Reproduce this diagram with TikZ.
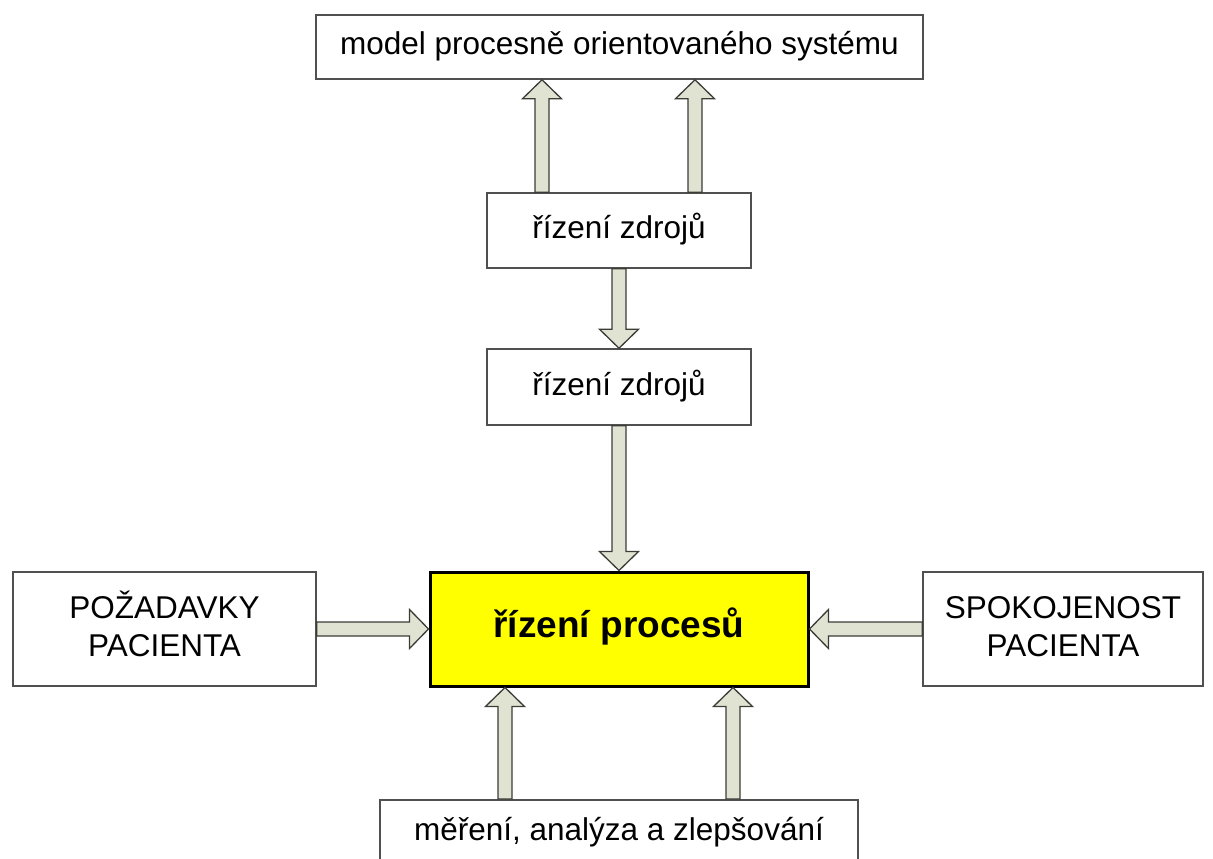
\documentclass[tikz,border=0pt]{standalone}
\usepackage{fontspec}
\setmainfont{Liberation Sans}
\usetikzlibrary{calc}
\definecolor{boxgray}{RGB}{80,80,80}
\definecolor{arrowline}{RGB}{60,60,55}
\definecolor{arrowfill}{RGB}{224,226,210}
\definecolor{procyellow}{RGB}{255,255,0}
\tikzset{
  box/.style={draw=boxgray, line width=1.5pt, fill=white, inner sep=0pt,
    text height=23pt, text depth=7pt, align=center,
    font=\fontsize{31.5}{38}\selectfont},
  twoline/.style={text height=61pt, text depth=7pt},
  procbox/.style={draw=black, line width=3pt, fill=procyellow, inner sep=0pt,
    text height=23pt, text depth=7pt,
    font=\fontsize{37}{44}\selectfont\bfseries},
  barrowstyle/.style={draw=arrowline, fill=arrowfill, line width=1.3pt, line join=miter}
}
\newcommand\barrow[2]{%
  \begin{scope}[x=1pt,y=1pt]
  \draw[barrowstyle] let \p1=(#1),\p2=(#2),
      \n1={atan2(\y2-\y1,\x2-\x1)},\n2={veclen(\x2-\x1,\y2-\y1)} in
    [shift={(\p1)},rotate=\n1]
    (0,-7) -- (\n2-19,-7) -- (\n2-19,-19.5) -- (\n2,0) -- (\n2-19,19.5) -- (\n2-19,7) -- (0,7) -- cycle;
  \end{scope}}
\begin{document}
\begin{tikzpicture}[x=1pt,y=-1pt]
\useasboundingbox (0,0) rectangle (1213,859);
\clip (0,0) rectangle (1213,859);
\node[box, minimum width=607, minimum height=64] (top) at (619.5,47) {model procesně orientovaného systému};
\node[box, minimum width=264, minimum height=75] (zd1) at (619,230.5) {řízení zdrojů};
\node[box, minimum width=264, minimum height=76] (zd2) at (619,387) {řízení zdrojů};
\node[procbox, minimum width=378, minimum height=114] (proc) at (619,629) {řízení procesů};
\node[box, twoline, minimum width=303, minimum height=114] (poz) at (164.5,629) {POŽADAVKY\\PACIENTA};
\node[box, twoline, minimum width=280, minimum height=114] (spo) at (1063,629) {SPOKOJENOST\\PACIENTA};
\node[box, minimum width=478, minimum height=90, anchor=north] (mer) at (619,799) {};
\node[anchor=base, inner sep=0pt, font=\fontsize{31.5}{38}\selectfont] (mertext) at (619,840) {měření, analýza a zlepšování};
\coordinate (ua) at (542,0);
\coordinate (ub) at (695,0);
\coordinate (da) at (505,0);
\coordinate (db) at (733,0);
\barrow{ua |- zd1.north}{ua |- top.south}
\barrow{ub |- zd1.north}{ub |- top.south}
\barrow{zd1.south}{zd2.north}
\barrow{zd2.south}{proc.north}
\barrow{poz.east}{proc.west}
\barrow{spo.west}{proc.east}
\barrow{da |- mer.north}{da |- proc.south}
\barrow{db |- mer.north}{db |- proc.south}
\end{tikzpicture}
\end{document}
